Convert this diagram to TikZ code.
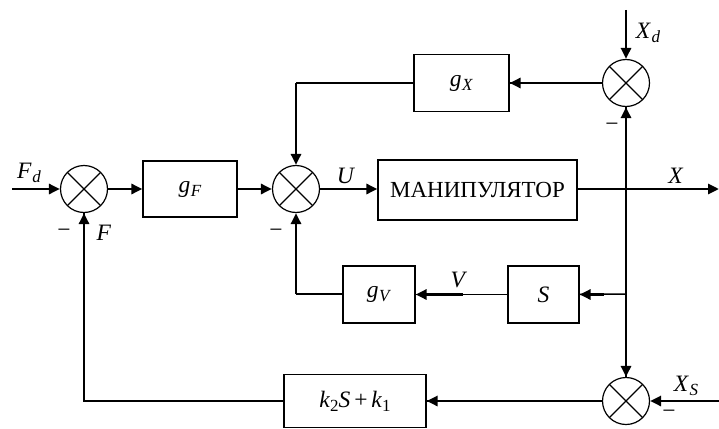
\documentclass[tikz,border=0pt]{standalone}
\usepackage{fontspec}
\setmainfont{Liberation Serif}
\usetikzlibrary{arrows.meta,calc}
\newcommand\ilab[2]{\textit{#1}\kern0.5pt\raisebox{-0.4ex}{\fontsize{17}{17}\selectfont\textit{#2}}}
\newcommand\isub[1]{\raisebox{-0.4ex}{\fontsize{17}{17}\selectfont #1}}
\begin{document}
\begin{tikzpicture}[x=1pt,y=-1pt,
  every node/.style={font=\fontsize{23.5}{27}\selectfont},
  blk/.style={draw,line width=1.2pt,inner sep=0pt,fill=white},
  sumj/.style={draw,circle,line width=1.2pt,minimum size=47pt,inner sep=0pt,fill=white,
    path picture={\draw[line width=1.1pt]
      (path picture bounding box.north west) -- (path picture bounding box.south east)
      (path picture bounding box.north east) -- (path picture bounding box.south west);}},
  thk/.style={line width=2.8pt},
  thn/.style={line width=1.5pt},
  arr/.style={-{Triangle[length=11pt,width=10pt]}},
  lbl/.style={inner sep=0pt}]
\useasboundingbox (0,0) rectangle (719,428);
% summing junctions
\node[sumj] (s1) at (84,189) {};
\node[sumj] (s2) at (296,189) {};
\node[sumj] (s3) at (626,83) {};
\node[sumj] (s4) at (626,401) {};
% blocks
\node[blk,minimum width=94pt,minimum height=56pt] (gf) at (190,189) {\ilab{g}{F}};
\node[blk,minimum width=199pt,minimum height=60pt,font=\fontsize{23}{27}\selectfont] (man) at (477.5,190) {МАНИПУЛЯТОР};
\node[blk,minimum width=95pt,minimum height=57pt] (gx) at (461.5,83) {\ilab{g}{X}};
\node[blk,minimum width=72pt,minimum height=57pt] (gv) at (379,294.5) {\ilab{g}{V}};
\node[blk,minimum width=71pt,minimum height=57pt] (sb) at (543.5,294.5) {\textit{S}};
\node[blk,minimum width=142pt,minimum height=53pt] (kb) at (355,401) {\textit{k}\isub{2}\textit{S}\,+\,\textit{k}\isub{1}};
% coordinates
\coordinate (fdin) at (12,189);
\coordinate (xout) at (719,189);
\coordinate (br) at (626,189);
\coordinate (brS) at (626,294);
\coordinate (xd) at (626,10);
\coordinate (xs) at (719,401);
\coordinate (c1) at (84,401);
\coordinate (c2) at (296,294);
\coordinate (c3) at (296,83);
% forward path
\draw[thk,arr] (fdin) -- (s1);
\draw[thk,arr] (s1) -- (gf);
\draw[thk,arr] (gf) -- (s2);
\draw[thk,arr] (s2) -- (man.west |- s2);
\draw[thk,arr] (man.east |- xout) -- (xout);
\draw[thk,arr] (xd) -- (s3);
% branches from X
\draw[thn] (br) -- (s3);
\draw[thk,arr] ($(s3.south)+(0,47)$) -- (s3.south);
\draw[thn] (br) -- (s4);
\draw[thk,arr] ($(s4.north)+(0,-47)$) -- (s4.north);
\draw[thn] (brS) -- (sb);
\draw[thk,arr] ($(sb.east)+(24,0)$) -- (sb.east);
\draw[thn] (sb) -- (gv);
\draw[thk,arr] ($(gv.east)+(47,0)$) -- (gv.east);
\draw[thn] (gv.west |- c2) -- (c2);
\draw[thk,arr] (c2) -- (s2);
\draw[thn] (s3) -- (gx);
\draw[thk,arr] ($(gx.east)+(48,0)$) -- (gx.east);
\draw[line width=2pt] (gx.west |- c3) -- (c3);
\draw[thk,arr] (c3) -- (s2);
\draw[thn] (xs) -- ($(s4.east)+(47,0)$);
\draw[thk,arr] ($(s4.east)+(47,0)$) -- (s4.east);
\draw[thn] (s4) -- (kb);
\draw[thk,arr] ($(kb.east)+(48,0)$) -- (kb.east);
\draw[thn] (kb.west) -- (c1) -- (s1.south);
\draw[thk,arr] ($(s1.south)+(0,47)$) -- (s1.south);
% labels
\node[lbl] (lfd) at (29,173) {\ilab{F}{d}};
\node[lbl] (lf) at (104,233) {\textit{F}};
\node[lbl] (m1) at (64,233) {−};
\node[lbl] (m2) at (276,233) {−};
\node[lbl] (lu) at (346,176) {\textit{U}};
\node[lbl] (lx) at (676,176) {\textit{X}};
\node[lbl] (lv) at (459,280) {\textit{V}};
\node[lbl] (lxd) at (648,33) {\ilab{X}{d}};
\node[lbl] (m3) at (612,127) {−};
\node[lbl] (lxs) at (686,386) {\ilab{X}{S}};
\node[lbl] (m4) at (669,414) {−};
\end{tikzpicture}
\end{document}
